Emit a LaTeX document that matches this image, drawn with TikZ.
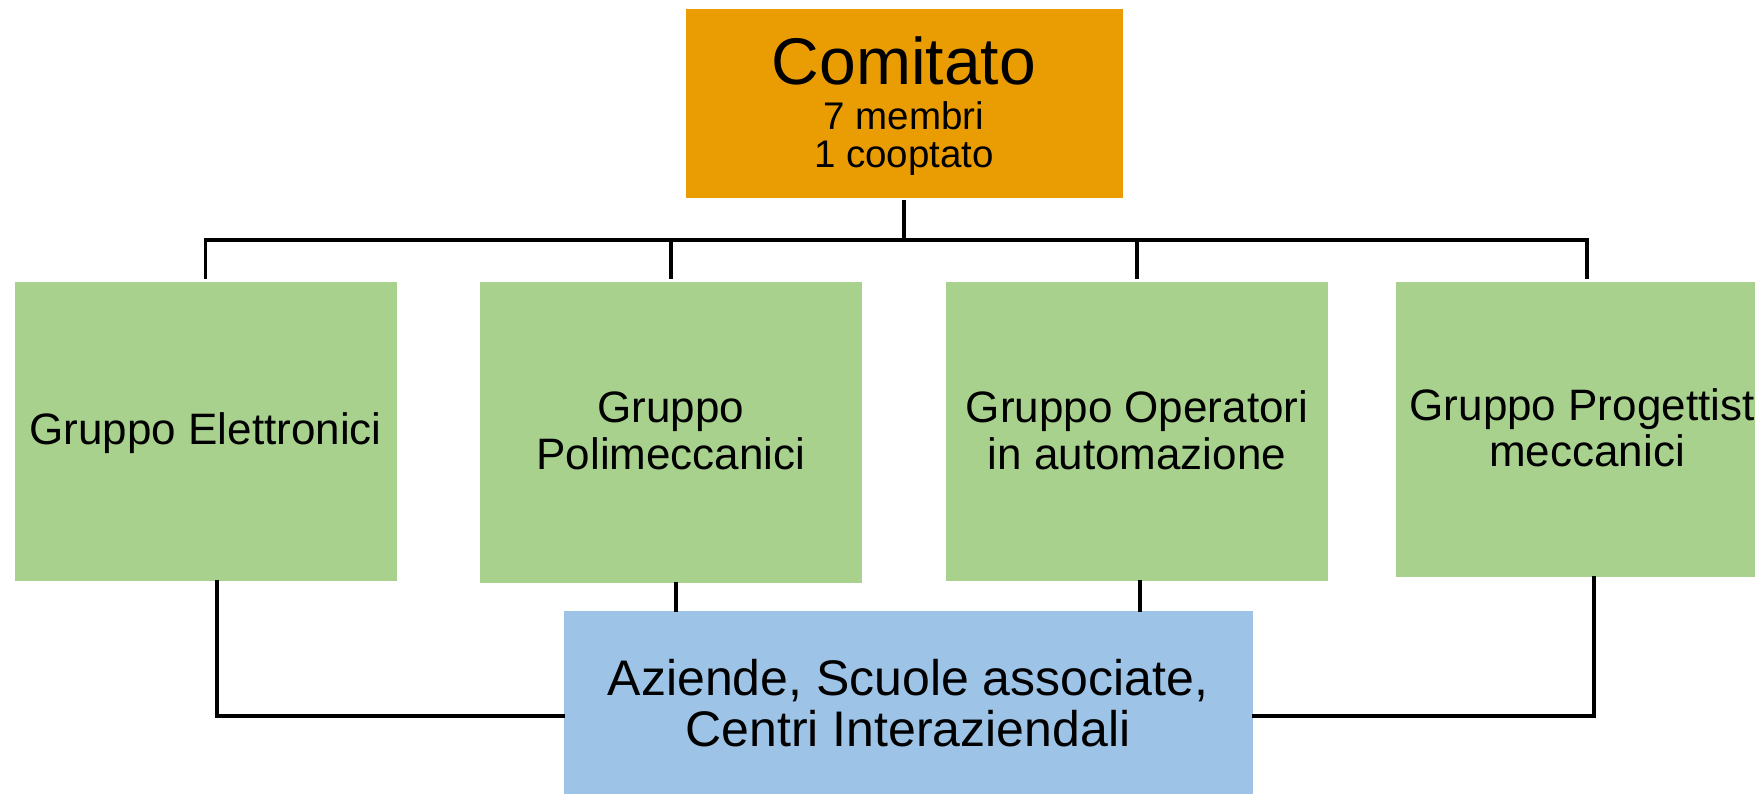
\documentclass[tikz,border=0pt]{standalone}
\usepackage{fontspec}
\setmainfont{Liberation Sans}
\definecolor{comorange}{HTML}{EA9D03}
\definecolor{grpgreen}{HTML}{A9D18E}
\definecolor{azblue}{HTML}{9DC3E6}
\tikzset{
  box/.style={rectangle, inner sep=0pt, draw=none},
  orangebox/.style={box, fill=comorange},
  greenbox/.style={box, fill=grpgreen, minimum width=382pt, minimum height=299pt},
  bluebox/.style={box, fill=azblue},
  txt/.style={anchor=base, align=center, inner sep=0pt},
  conn/.style={draw=black, line width=3.2pt, line cap=rect},
}
\begin{document}
\begin{tikzpicture}[x=1pt,y=-1pt]
\useasboundingbox (0,0) rectangle (1755,794);
% boxes
\node[orangebox, minimum width=437pt, minimum height=189pt] (com) at (904,103.5) {};
\node[greenbox] (g1) at (205.7,431.5) {};
\node[greenbox, minimum height=301pt] (g2) at (671,432.5) {};
\node[greenbox] (g3) at (1137,431.5) {};
\node[greenbox, minimum height=295pt] (g4) at (1587,429.5) {};
\node[bluebox, minimum width=689pt, minimum height=184pt] (az) at (908.5,703) {};
% texts (base anchor = baseline of the last line)
\node[txt, font=\fontsize{66}{70}\selectfont] (comt) at (904,85) {Comitato};
\node[txt, font=\fontsize{38.5}{38}\selectfont] (comsub) at (904,168) {7 membri\\1 cooptato};
\node[txt, font=\fontsize{44}{47}\selectfont] (g1t) at (205.7,444) {Gruppo Elettronici};
\node[txt, font=\fontsize{44}{47}\selectfont] (g2t) at (671,469) {Gruppo\\Polimeccanici};
\node[txt, font=\fontsize{44}{47}\selectfont] (g3t) at (1137,469) {Gruppo Operatori\\in automazione};
\node[txt, font=\fontsize{44}{46}\selectfont] (g4t) at (1587,466) {Gruppo Progettisti\\meccanici};
\node[txt, font=\fontsize{50}{51}\selectfont] (azt) at (908,746) {Aziende, Scuole associate,\\Centri Interaziendali};
% connector helpers
\coordinate (bar) at (205.7,240);
\coordinate (x1) at (217,716);
\coordinate (x2) at (676,716);
\coordinate (x3) at (1140,716);
\coordinate (x4) at (1594,716);
% top tree
\draw[conn] ([yshift=-3pt]com.south) -- (com.south |- bar);
\draw[conn] ([yshift=4pt]g1.north) -- (g1.north |- bar) -- (g4.north |- bar) -- ([yshift=4pt]g4.north);
\draw[conn] ([yshift=4pt]g2.north) -- (g2.north |- bar);
\draw[conn] ([yshift=4pt]g3.north) -- (g3.north |- bar);
% bottom links
\draw[conn] (g1.south -| x1) -- (x1) -- (x1 -| az.west);
\draw[conn] (g4.south -| x4) -- (x4) -- (x4 -| az.east);
\draw[conn] (g2.south -| x2) -- (x2 |- az.north);
\draw[conn] (g3.south -| x3) -- (x3 |- az.north);
\end{tikzpicture}
\end{document}
